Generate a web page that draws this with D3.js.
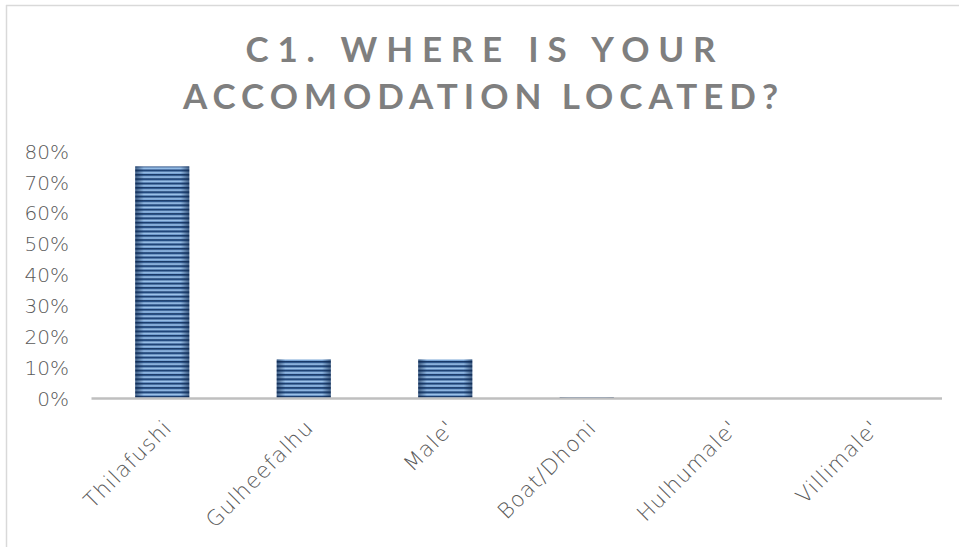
<!DOCTYPE html>
<html><head><meta charset="utf-8">
<script src="https://cdn.jsdelivr.net/npm/d3@7"></script>
<style>
html,body{margin:0;padding:0;background:#fff;}
svg{display:block;}
</style></head>
<body>
<svg id="chart" width="959" height="547"></svg>
<script>
const categories = ["Thilafushi","Gulheefalhu","Male'","Boat/Dhoni","Hulhumale'","Villimale'"];
const values = [0.75, 0.125, 0.125, 0.003, 0, 0];
const yTicks = [0,0.1,0.2,0.3,0.4,0.5,0.6,0.7,0.8];
const titleLines = ["C1. WHERE IS YOUR","ACCOMODATION LOCATED?"];

const svg = d3.select("#chart");
const W = 959, H = 547;
const fontFam = "'Lato','Open Sans',sans-serif";
const labelFont = "'DejaVu Sans',sans-serif";

// border of chart area
svg.append("line").attr("x1",6.5).attr("x2",6.5).attr("y1",5).attr("y2",H)
  .attr("stroke","#d9d9d9").attr("stroke-width",1.5);
svg.append("line").attr("x1",6).attr("x2",W).attr("y1",5.5).attr("y2",5.5)
  .attr("stroke","#d9d9d9").attr("stroke-width",1.5);

const x = d3.scaleBand().domain(categories).range([91.5, 940.5]).paddingInner(0.618).paddingOuter(0.309);
const y = d3.scaleLinear().domain([0,0.8]).range([398, 151]);

// defs: stripes pattern + edge shading
const defs = svg.append("defs");
const sg = defs.append("linearGradient").attr("id","stripeGrad").attr("x1",0).attr("x2",0).attr("y1",0).attr("y2",1);
[["0%","#132f58"],["30%","#264f86"],["65%","#a6cbef"],["100%","#5f8cc4"]].forEach(s=>
  sg.append("stop").attr("offset",s[0]).attr("stop-color",s[1]));
const pat = defs.append("pattern").attr("id","stripes").attr("patternUnits","userSpaceOnUse")
  .attr("width",10).attr("height",4.35);
pat.append("rect").attr("width",10).attr("height",4.35).attr("fill","url(#stripeGrad)");
const eg = defs.append("linearGradient").attr("id","edgeGrad").attr("x1",0).attr("x2",1).attr("y1",0).attr("y2",0);
[["0%","#0e2548",0.6],["16%","#0e2548",0.0],["84%","#0e2548",0.0],["100%","#0e2548",0.6]].forEach(s=>
  eg.append("stop").attr("offset",s[0]).attr("stop-color",s[1]).attr("stop-opacity",s[2]));

// y axis labels
const yAxis = d3.axisLeft(y).tickValues(yTicks).tickFormat(d3.format(".0%")).tickSize(0).tickPadding(0);
const ga = svg.append("g").attr("transform","translate(69,0)").call(yAxis);
ga.select(".domain").remove();
ga.selectAll("text").attr("font-family",labelFont).attr("font-weight",200).attr("font-size",20).attr("fill","#595959")
  .attr("dy","0.36em");

// bars
const bars = svg.append("g");
categories.forEach((c,i)=>{
  const v = values[i];
  if (v <= 0) return;
  const y0 = y(v), h = y(0)-y(v);
  bars.append("rect").attr("x",x(c)).attr("y",y0).attr("width",x.bandwidth()).attr("height",h)
    .attr("fill","url(#stripes)");
  bars.append("rect").attr("x",x(c)).attr("y",y0).attr("width",x.bandwidth()).attr("height",h)
    .attr("fill","url(#edgeGrad)");
});

// x axis
const xAxis = d3.axisBottom(x).tickSize(0).tickPadding(0);
const gx = svg.append("g").attr("transform","translate(0,398)").call(xAxis);
gx.select(".domain").attr("stroke","#bfbfbf").attr("stroke-width",2.5)
  .attr("d","M91.5,0.5H942");
gx.selectAll(".tick text")
  .attr("font-family",labelFont).attr("font-weight",200).attr("font-size",21.5).attr("fill","#595959")
  .attr("letter-spacing","1px")
  .attr("text-anchor","end").attr("dy",0)
  .attr("transform","translate(11,31) rotate(-45)");

// title
const title = svg.append("g");
const titleW = [470, 595];
titleLines.forEach((t,i)=>{
  title.append("text").attr("x",480.5).attr("y",[62,109][i])
    .attr("text-anchor","middle").attr("font-family",fontFam).attr("font-weight","bold")
    .attr("font-size",35).attr("fill","#7f7f7f")
    .attr("textLength",titleW[i]).attr("lengthAdjust","spacing")
    .text(t);
});
</script>
</body></html>
